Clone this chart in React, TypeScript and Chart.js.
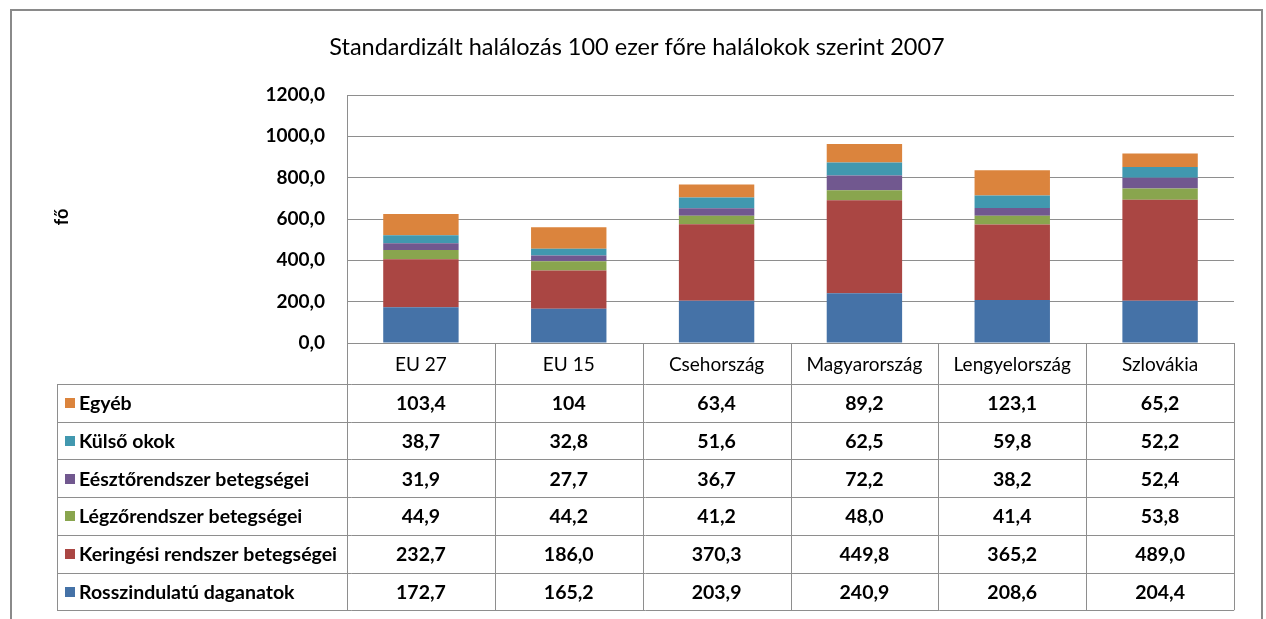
import { useEffect, useRef } from "react";
import { Chart, registerables } from "chart.js";

Chart.register(...registerables);

const chartTitle = "Standardizált halálozás 100 ezer főre halálokok szerint 2007";
const yAxisTitle = "fő";
const categories = ["EU 27", "EU 15", "Csehország", "Magyarország", "Lengyelország", "Szlovákia"];

// series values as shown in the data table (Hungarian decimal comma)
const rosszindulatu = ["172,7", "165,2", "203,9", "240,9", "208,6", "204,4"];
const keringesi = ["232,7", "186,0", "370,3", "449,8", "365,2", "489,0"];
const legzo = ["44,9", "44,2", "41,2", "48,0", "41,4", "53,8"];
const emeszto = ["31,9", "27,7", "36,7", "72,2", "38,2", "52,4"];
const kulso = ["38,7", "32,8", "51,6", "62,5", "59,8", "52,2"];
const egyeb = ["103,4", "104", "63,4", "89,2", "123,1", "65,2"];

const seriesNames = [
  "Rosszindulatú daganatok",
  "Keringési rendszer betegségei",
  "Légzőrendszer betegségei",
  "Eésztőrendszer betegségei",
  "Külső okok",
  "Egyéb",
];
const seriesValues = [rosszindulatu, keringesi, legzo, emeszto, kulso, egyeb];
const seriesColors = ["#4572A7", "#AA4643", "#89A54E", "#71588F", "#4198AF", "#DB843D"];

const yMin = 0;
const yMax = 1200;
const yStep = 200;

const FONT = "Lato, 'Open Sans', sans-serif";
const LINE = "#8e8e8e";

const toNum = (s: string) => parseFloat(s.replace(",", "."));

const framePlugin = {
  id: "frameAndTable",
  beforeDraw(chart: any) {
    const ctx = chart.ctx;
    ctx.save();
    ctx.fillStyle = "#ffffff";
    ctx.fillRect(0, 0, chart.width, chart.height);
    ctx.strokeStyle = "#8a8a8a";
    ctx.lineWidth = 2;
    ctx.strokeRect(11, 10, 1251, 640);
    ctx.restore();
  },
  afterDraw(chart: any) {
    const ctx = chart.ctx;
    const area = chart.chartArea;
    const xs = chart.scales.x;
    ctx.save();

    // title
    ctx.fillStyle = "#000";
    ctx.font = `23.5px ${FONT}`;
    ctx.textAlign = "center";
    ctx.textBaseline = "middle";
    ctx.fillText(chartTitle, 637, 47);

    // y title
    ctx.save();
    ctx.translate(62, 217);
    ctx.rotate(-Math.PI / 2);
    ctx.font = `bold 18px ${FONT}`;
    ctx.fillText(yAxisTitle, 0, 0);
    ctx.restore();

    // data table
    const catW = xs.getPixelForValue(1) - xs.getPixelForValue(0);
    const top = area.bottom;
    const headerH = 41;
    const rowH = 37.7;
    const nRows = seriesNames.length;
    const tableLeft = 57;
    const bottom = top + headerH + rowH * nRows;

    ctx.strokeStyle = LINE;
    ctx.lineWidth = 1;
    ctx.beginPath();
    for (let i = 0; i <= categories.length; i++) {
      const x = Math.round(xs.getPixelForValue(0) - catW / 2 + i * catW) + 0.5;
      ctx.moveTo(x, top);
      ctx.lineTo(x, bottom);
    }
    ctx.moveTo(tableLeft + 0.5, top + headerH);
    ctx.lineTo(tableLeft + 0.5, bottom);
    for (let r = 0; r <= nRows; r++) {
      const y = Math.round(top + headerH + r * rowH) + 0.5;
      ctx.moveTo(tableLeft, y);
      ctx.lineTo(area.right, y);
    }
    ctx.stroke();

    // header text
    ctx.fillStyle = "#000";
    ctx.font = `19px ${FONT}`;
    ctx.textAlign = "center";
    ctx.textBaseline = "middle";
    categories.forEach((c, i) => {
      ctx.fillText(c, xs.getPixelForValue(i), top + headerH / 2 + 1);
    });

    // rows (top = last series)
    for (let r = 0; r < nRows; r++) {
      const si = nRows - 1 - r;
      const cy = top + headerH + r * rowH + rowH / 2 + 1;
      ctx.fillStyle = seriesColors[si];
      ctx.fillRect(65, Math.round(cy - 5.5), 10, 10);
      ctx.fillStyle = "#000";
      ctx.font = `bold 19.5px ${FONT}`;
      ctx.textAlign = "left";
      ctx.fillText(seriesNames[si], 79, cy);
      ctx.textAlign = "center";
      ctx.font = `bold 19.5px ${FONT}`;
      seriesValues[si].forEach((v, i) => {
        ctx.fillText(v, xs.getPixelForValue(i), cy);
      });
    }
    ctx.restore();
  },
};

export default function App() {
  const ref = useRef<HTMLCanvasElement | null>(null);

  useEffect(() => {
    if (!ref.current) return;
    const chart = new Chart(ref.current, {
      type: "bar",
      data: {
        labels: categories,
        datasets: seriesNames.map((name, i) => ({
          label: name,
          data: seriesValues[i].map(toNum),
          backgroundColor: seriesColors[i],
          borderWidth: 0,
          barPercentage: 1,
          categoryPercentage: 0.51,
        })),
      },
      options: {
        animation: false,
        responsive: false,
        devicePixelRatio: 1,
        layout: { padding: { top: 95, right: 32, bottom: 276, left: 0 } },
        plugins: {
          legend: { display: false },
          title: { display: false },
          tooltip: { enabled: false },
        },
        scales: {
          x: { stacked: true, display: false },
          y: {
            stacked: true,
            min: yMin,
            max: yMax,
            afterFit: (scale: any) => {
              scale.width = 347;
            },
            ticks: {
              stepSize: yStep,
              padding: 22,
              color: "#000",
              font: { family: FONT, size: 19, weight: "bold" },
              callback: (v: any) => Number(v).toFixed(1).replace(".", ","),
            },
            grid: { color: LINE, drawTicks: false, lineWidth: 1 },
            border: { display: true, color: LINE },
          },
        },
      },
      plugins: [framePlugin],
    });
    return () => chart.destroy();
  }, []);

  return (
    <div style={{ position: "fixed", left: 0, top: 0, width: 1266, height: 619, background: "#fff" }}>
      <canvas ref={ref} width={1266} height={619} style={{ width: 1266, height: 619, display: "block" }} />
    </div>
  );
}
